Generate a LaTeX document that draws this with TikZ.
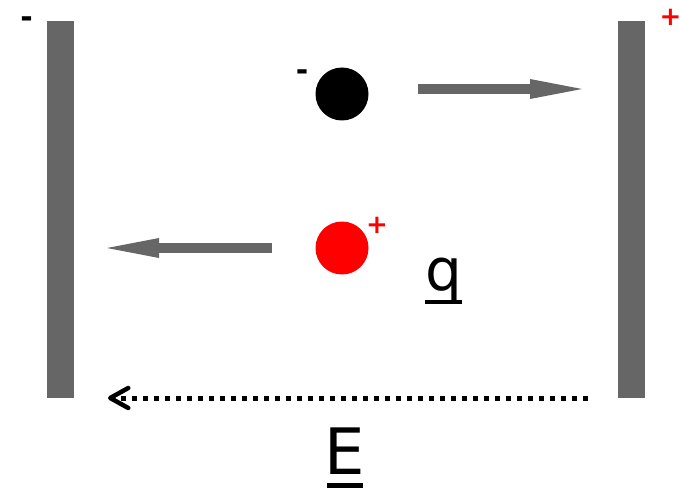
\documentclass[tikz,border=0pt]{standalone}
\usepackage{fontspec}
\setmainfont{DejaVu Sans}
\usetikzlibrary{arrows.meta,calc}
\definecolor{plategray}{HTML}{666666}
\definecolor{chargered}{HTML}{FF0000}
\tikzset{
  plate/.style={fill=plategray,draw=none,inner sep=0pt,minimum width=27pt,minimum height=377pt},
  charge/.style={circle,draw=none,inner sep=0pt,minimum size=53pt},
  forcearrow/.style={draw=plategray,line width=10pt,-{Triangle[length=52pt,width=20pt,line width=0pt]}},
  fieldarrow/.style={draw=black,line width=5pt,dash pattern=on 5pt off 6pt,-{Straight Barb[length=18pt,width=20pt,line width=4.5pt,round]}},
  sign/.style={inner sep=0pt,font=\bfseries\fontsize{26}{26}\selectfont},
  minussign/.style={inner sep=0pt,font=\bfseries\fontsize{30}{30}\selectfont},
  label/.style={inner sep=0pt,anchor=base}
}
\begin{document}
\begin{tikzpicture}[x=1pt,y=-1pt]
\useasboundingbox (0,0) rectangle (680,492);
% plates
\node[plate] (lp) at (60.5,209.5) {};
\node[plate] (rp) at (631,209.5) {};
\node[minussign] (lm) at (26.5,22) {-};
\node[sign,text=chargered] (rplus) at (670.5,17) {+};
% charges
\node[charge,fill=black] (neg) at (342,94) {};
\node[minussign] (negm) at (302,75) {-};
\node[charge,fill=chargered] (pos) at (342,248) {};
\node[sign,text=chargered] (posp) at (377,225) {+};
% force arrows
\coordinate (a1s) at (418,89);
\coordinate (a1e) at (582,89);
\draw[forcearrow] (a1s) -- (a1e);
\coordinate (a2s) at (272,248);
\coordinate (a2e) at (107,248);
\draw[forcearrow] (a2s) -- (a2e);
% field arrow
\coordinate (fs) at (588,398);
\coordinate (fe) at (108,398);
\draw[fieldarrow] (fs) -- (fe);
% labels
\node[label,font=\fontsize{58}{58}\selectfont] (q) at (444,290) {q};
\fill (425,300) rectangle (462,304);
\node[label,font=\fontsize{64}{64}\selectfont] (E) at (345,474) {E};
\fill (327,483) rectangle (363,488);
\end{tikzpicture}
\end{document}
